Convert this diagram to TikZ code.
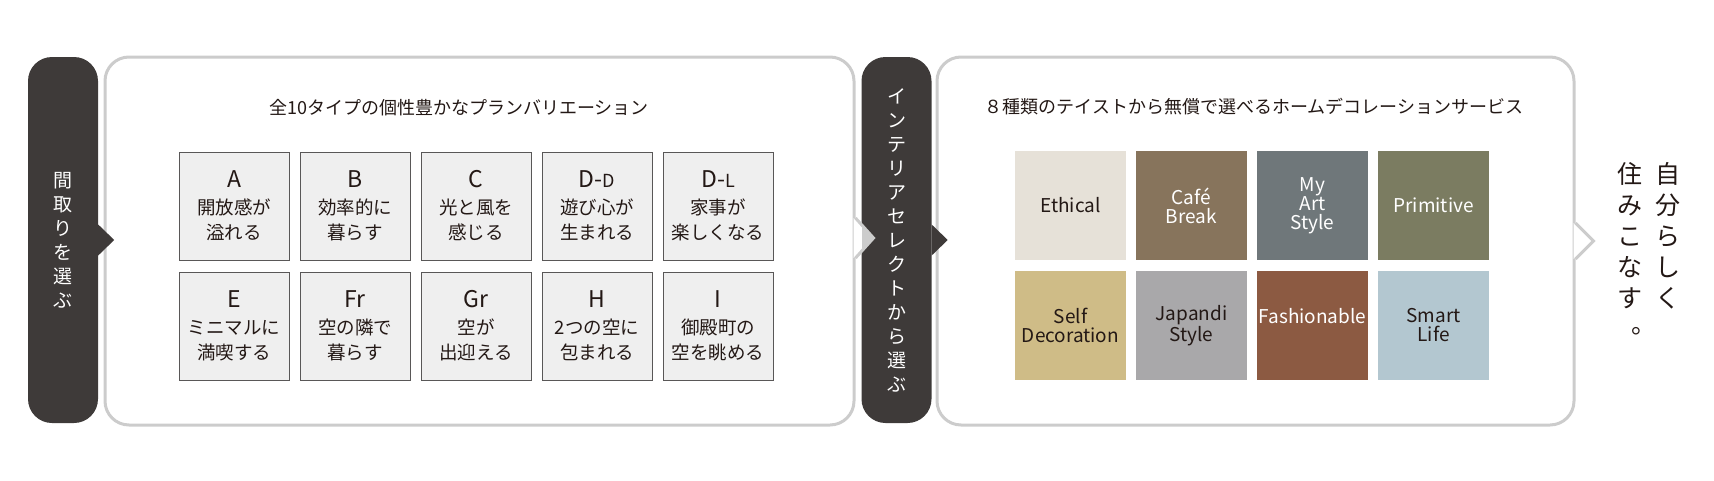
\documentclass[tikz,border=0pt]{standalone}
\usepackage{fontspec}
\setmainfont{Noto Sans CJK JP}
\usetikzlibrary{positioning}

\definecolor{pillc}{HTML}{3E3A39}
\definecolor{linec}{HTML}{CCCCCC}
\definecolor{boxc}{HTML}{EFEFEF}
\definecolor{boxl}{HTML}{595757}
\definecolor{ink}{HTML}{231815}
\definecolor{ethc}{HTML}{E6E1D8}
\definecolor{cafec}{HTML}{87745C}
\definecolor{artc}{HTML}{6F777A}
\definecolor{primc}{HTML}{7B7C61}
\definecolor{selfc}{HTML}{CFBC87}
\definecolor{japc}{HTML}{A9A8AA}
\definecolor{fashc}{HTML}{8C5A42}
\definecolor{smartc}{HTML}{B3C7D0}

\begin{document}
\begin{tikzpicture}[x=1pt, y=-1pt, node distance=120pt and 121pt, on grid,
  panel/.style={draw=linec, line width=3pt, fill=white, rounded corners=24pt, minimum height=368pt},
  pill/.style={fill=pillc, text=white, rounded corners=24pt, minimum width=70pt, minimum height=366pt,
    inner sep=0pt, align=center, font=\fontsize{19}{24}\selectfont},
  plan/.style={draw=boxl, fill=boxc, line width=1pt, minimum width=110pt, minimum height=108pt,
    inner sep=0pt, align=center, text=ink, font=\fontsize{18.5}{25}\selectfont},
  taste/.style={minimum width=111pt, minimum height=109pt, inner sep=0pt, align=center,
    font=\fontsize{19}{19}\selectfont},
  head/.style={text=ink, inner sep=0pt, font=\fontsize{18}{18}\selectfont},
  motto/.style={text=ink, inner sep=0pt, anchor=north, align=center, font=\fontsize{25}{31}\selectfont}]
  \useasboundingbox (0,0) rectangle (1714,480);

  \node[panel, minimum width=637pt] (R) at (1255.5,241) {};
  \fill[white] ([yshift=18pt, xshift=-2pt]R.east) -- ++(20,18) -- ++(-20,18) -- cycle;
  \draw[draw=linec, line width=3pt] ([yshift=18pt]R.east) -- ++(18,18) -- ++(-18,18);

  \node[pill] (P2) at (896.5,240) {イ\\ン\\テ\\リ\\ア\\セ\\レ\\ク\\ト\\か\\ら\\選\\ぶ};
  \fill[pillc] ([yshift=15.5pt]P2.east) -- ++(16,15.5) -- ++(-16,15.5) -- cycle;

  \node[panel, minimum width=749pt] (L) at (479.5,241) {};
  \fill[white] ([yshift=23pt, xshift=-2pt]L.east) -- ++(20,20) -- ++(-20,20) -- cycle;
  \draw[draw=linec, line width=3pt] ([yshift=23pt]L.east) -- ++(18,20) -- ++(-18,20);
  \fill[linec] (862,227) -- (872,238) -- (862,249) -- cycle;

  \node[pill] (P1) at (63,240) {間\\取\\り\\を\\選\\ぶ};
  \fill[pillc] ([yshift=15.5pt]P1.east) -- ++(16,15.5) -- ++(-16,15.5) -- cycle;

  \node[head] (t1) at (459,108) {全10タイプの個性豊かなプランバリエーション};
  \node[head] (t2) at (1254,107) {８種類のテイストから無償で選べるホームデコレーションサービス};

  \node[plan] (A) at (234,206) {{\fontsize{23}{25}\selectfont A}\\[2pt]開放感が\\溢れる};
  \node[plan] (B) [right=of A] {{\fontsize{23}{25}\selectfont B}\\[2pt]効率的に\\暮らす};
  \node[plan] (C) [right=of B] {{\fontsize{23}{25}\selectfont C}\\[2pt]光と風を\\感じる};
  \node[plan] (DD) [right=of C] {{\fontsize{23}{25}\selectfont D-{\fontsize{18}{25}\selectfont D}}\\[2pt]遊び心が\\生まれる};
  \node[plan] (DL) [right=of DD] {{\fontsize{23}{25}\selectfont D-{\fontsize{18}{25}\selectfont L}}\\[2pt]家事が\\楽しくなる};
  \node[plan] (E) [below=of A] {{\fontsize{23}{25}\selectfont E}\\[2pt]ミニマルに\\満喫する};
  \node[plan] (Fr) [right=of E] {{\fontsize{23}{25}\selectfont Fr}\\[2pt]空の隣で\\暮らす};
  \node[plan] (Gr) [right=of Fr] {{\fontsize{23}{25}\selectfont Gr}\\[2pt]空が\\出迎える};
  \node[plan] (H) [right=of Gr] {{\fontsize{23}{25}\selectfont H}\\[2pt]2つの空に\\包まれる};
  \node[plan] (I) [right=of H] {{\fontsize{23}{25}\selectfont I}\\[2pt]御殿町の\\空を眺める};

  \node[taste, fill=ethc, text=ink] (eth) at (1070.5,205.5) {Ethical};
  \node[taste, fill=cafec, text=white] (cafe) [right=of eth] {Café\\Break};
  \node[taste, fill=artc, text=white] (art) [right=of cafe] {My\\Art\\Style};
  \node[taste, fill=primc, text=white] (prim) [right=of art] {Primitive};
  \node[taste, fill=selfc, text=ink] (self) [below=of eth] {Self\\Decoration};
  \node[taste, fill=japc, text=ink] (jap) [right=of self] {Japandi\\Style};
  \node[taste, fill=fashc, text=white] (fash) [right=of jap] {Fashionable\\\mbox{}};
  \node[taste, fill=smartc, text=ink] (smart) [right=of fash] {Smart\\Life};

  \node[motto] (jibun) at (1668,162) {自\\分\\ら\\し\\く};
  \node[motto] (sumi) at (1630,162) {住\\み\\こ\\な\\す\\[-5pt]\hspace*{1.1em}。};
\end{tikzpicture}
\end{document}
